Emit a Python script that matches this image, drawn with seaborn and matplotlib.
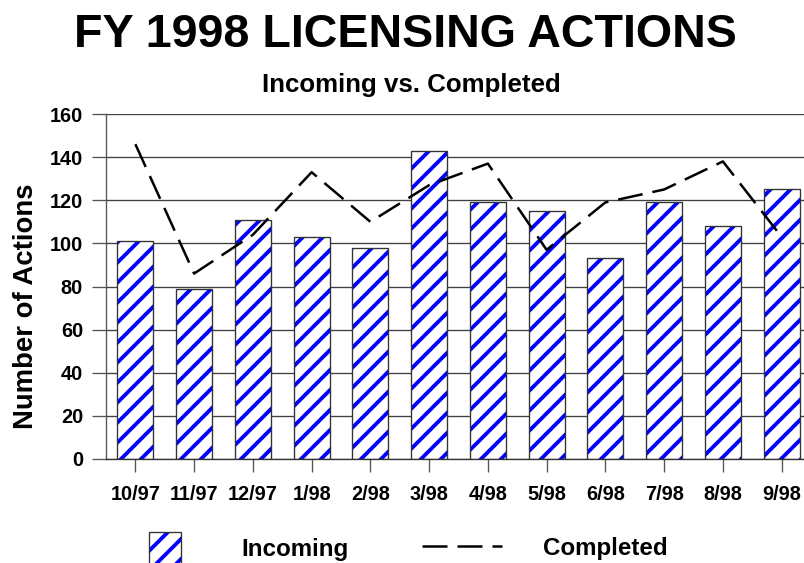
import matplotlib
matplotlib.use("Agg")
import matplotlib.pyplot as plt
import seaborn as sns
from matplotlib.patches import Patch, Rectangle
from matplotlib.lines import Line2D
from matplotlib.legend_handler import HandlerTuple

months = ["10/97", "11/97", "12/97", "1/98", "2/98", "3/98",
          "4/98", "5/98", "6/98", "7/98", "8/98", "9/98"]
incoming = [101, 79, 111, 103, 98, 143, 119, 115, 93, 119, 108, 125]
completed = [146, 86, 104, 133, 110, 127, 137, 97, 119, 125, 138, 103]
y_ticks = [0, 20, 40, 60, 80, 100, 120, 140, 160]

sns.set_theme(style="white")
plt.rcParams["font.family"] = ["Liberation Sans", "DejaVu Sans"]
plt.rcParams["font.weight"] = "bold"
plt.rcParams["text.color"] = "black"
plt.rcParams["hatch.linewidth"] = 2.3

DPI = 120
fig = plt.figure(figsize=(804 / DPI, 563 / DPI), dpi=DPI)
ax = fig.add_axes([106 / 804, 104 / 563, 705 / 804, 345 / 563])

BLUE = "#0000FF"
# hatched bars
sns.barplot(x=months, y=incoming, color="white", saturation=1, width=0.61,
            hatch="//", edgecolor=BLUE, linewidth=0, ax=ax, zorder=2)
for p in list(ax.patches):
    ax.add_patch(Rectangle(p.get_xy(), p.get_width(), p.get_height(),
                           fill=False, edgecolor="#333333", linewidth=0.8,
                           zorder=3))

sns.pointplot(x=months, y=completed, color="black", marker="",
              linestyle=(0, (10, 4)), linewidth=1.5, ax=ax, zorder=5)

ax.set_xlim(-0.5, len(months) - 0.5)
ax.set_ylim(0, 160)
ax.set_yticks(y_ticks)
ax.set_yticklabels([str(v) for v in y_ticks])
ax.set_xticks(range(len(months)))
ax.set_xticklabels(months)
ax.yaxis.grid(True, color="#404040", linewidth=0.8, zorder=0)
ax.set_axisbelow(True)
for s in ["top", "right"]:
    ax.spines[s].set_visible(False)
ax.spines["left"].set_color("#555555")
ax.spines["left"].set_linewidth(0.8)
ax.spines["bottom"].set_color("#333333")
ax.spines["bottom"].set_linewidth(0.8)

ax.tick_params(axis="y", direction="out", length=8.4, width=0.8,
               color="#555555", pad=5.4, labelsize=12, left=True,
               labelcolor="black")
ax.tick_params(axis="x", direction="out", length=8, width=0.8,
               color="#555555", pad=7.5, labelsize=12, bottom=True,
               labelcolor="black")
for t in ax.get_xticklabels() + ax.get_yticklabels():
    t.set_fontweight("bold")

ax.set_xlabel("")
ax.set_ylabel("Number of Actions", fontsize=16.5, fontweight="bold",
              color="black")
ax.yaxis.set_label_coords((39 - 106) / 705, (459 - 306) / 345)

fig.text(405 / 804, 1 - 35 / 563, "FY 1998 LICENSING ACTIONS",
         ha="center", va="center", fontsize=28, fontweight="bold",
         color="black")
fig.text(411 / 804, 1 - 85 / 563, "Incoming vs. Completed",
         ha="center", va="center", fontsize=15.5, fontweight="bold",
         color="black")

fs = 14.5
fpx = fs * DPI / 72
h_hatch = Patch(facecolor="white", edgecolor=BLUE, hatch="//", linewidth=0)
h_box = Patch(facecolor="none", edgecolor="#333333", linewidth=0.8)
leg1 = fig.legend(handles=[(h_hatch, h_box)], labels=["Incoming"],
                  handler_map={tuple: HandlerTuple(ndivide=1, pad=0)},
                  loc="center left", bbox_to_anchor=(149 / 804, 1 - 548 / 563),
                  frameon=False, borderpad=0, borderaxespad=0,
                  handlelength=32 / fpx, handleheight=1.62,
                  handletextpad=60 / fpx, prop={"size": fs, "weight": "bold"})
h_line = Line2D([], [], color="black", linewidth=1.5, linestyle=(0, (10, 4)))
leg2 = fig.legend(handles=[h_line], labels=["Completed"],
                  loc="center left", bbox_to_anchor=(422 / 804, 1 - 548 / 563),
                  frameon=False, borderpad=0, borderaxespad=0,
                  handlelength=80 / fpx, handletextpad=41 / fpx,
                  prop={"size": fs, "weight": "bold"})
for leg in (leg1, leg2):
    for t in leg.get_texts():
        t.set_color("black")

fig.savefig("out.png", dpi=DPI)
